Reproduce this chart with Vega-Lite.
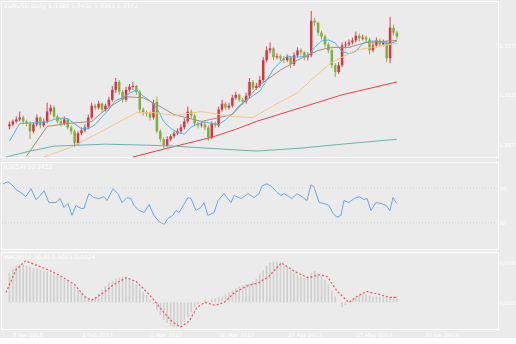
{
  "$schema": "https://vega.github.io/schema/vega-lite/v6.json",
  "padding": 0,
  "background": "#ebebeb",
  "spacing": 1,
  "datasets": {
    "candles": [
      {"i":1,"o":33,"c":35,"h":38,"l":30,"macd":30},{"i":2,"o":35,"c":38,"h":40,"l":33,"macd":34},{"i":3,"o":38,"c":40,"h":43,"l":36,"macd":37},{"i":4,"o":40,"c":42,"h":48,"l":38,"macd":38},{"i":5,"o":42,"c":38,"h":44,"l":35,"macd":38},{"i":6,"o":38,"c":36,"h":40,"l":33,"macd":37},{"i":7,"o":36,"c":28,"h":38,"l":20,"macd":36},{"i":8,"o":28,"c":35,"h":37,"l":26,"macd":35},{"i":9,"o":35,"c":42,"h":45,"l":33,"macd":34},{"i":10,"o":42,"c":34,"h":43,"l":31,"macd":33},
      {"i":11,"o":34,"c":38,"h":41,"l":32,"macd":32},{"i":12,"o":38,"c":48,"h":57,"l":36,"macd":31},{"i":13,"o":48,"c":52,"h":55,"l":45,"macd":30},{"i":14,"o":52,"c":43,"h":54,"l":41,"macd":28},{"i":15,"o":43,"c":38,"h":45,"l":36,"macd":27},{"i":16,"o":38,"c":36,"h":41,"l":33,"macd":25},{"i":17,"o":36,"c":40,"h":43,"l":34,"macd":23},{"i":18,"o":40,"c":32,"h":41,"l":30,"macd":21},{"i":19,"o":32,"c":28,"h":34,"l":25,"macd":19},{"i":20,"o":28,"c":16,"h":30,"l":12,"macd":16},
      {"i":21,"o":16,"c":26,"h":28,"l":14,"macd":13},{"i":22,"o":26,"c":29,"h":32,"l":24,"macd":10},{"i":23,"o":29,"c":32,"h":35,"l":27,"macd":7},{"i":24,"o":32,"c":42,"h":45,"l":30,"macd":4},{"i":25,"o":42,"c":54,"h":57,"l":40,"macd":2},{"i":26,"o":54,"c":52,"h":56,"l":49,"macd":5},{"i":27,"o":52,"c":56,"h":59,"l":50,"macd":9},{"i":28,"o":56,"c":50,"h":57,"l":47,"macd":13},{"i":29,"o":50,"c":54,"h":56,"l":48,"macd":17},{"i":30,"o":54,"c":60,"h":63,"l":52,"macd":20},
      {"i":31,"o":60,"c":70,"h":74,"l":58,"macd":22},{"i":32,"o":70,"c":78,"h":82,"l":67,"macd":24},{"i":33,"o":78,"c":68,"h":80,"l":65,"macd":25},{"i":34,"o":68,"c":60,"h":70,"l":57,"macd":26},{"i":35,"o":60,"c":70,"h":73,"l":58,"macd":25},{"i":36,"o":70,"c":73,"h":76,"l":68,"macd":24},{"i":37,"o":73,"c":74,"h":78,"l":70,"macd":22},{"i":38,"o":74,"c":68,"h":75,"l":65,"macd":19},{"i":39,"o":68,"c":50,"h":70,"l":46,"macd":15},{"i":40,"o":50,"c":47,"h":52,"l":44,"macd":11},
      {"i":41,"o":47,"c":46,"h":49,"l":43,"macd":7},{"i":42,"o":46,"c":42,"h":48,"l":39,"macd":3},{"i":43,"o":42,"c":56,"h":60,"l":40,"macd":-2},{"i":44,"o":58,"c":28,"h":63,"l":26,"macd":-8},{"i":45,"o":28,"c":20,"h":30,"l":17,"macd":-13},{"i":46,"o":20,"c":14,"h":22,"l":10,"macd":-18},{"i":47,"o":14,"c":20,"h":23,"l":12,"macd":-21},{"i":48,"o":20,"c":23,"h":25,"l":18,"macd":-24},{"i":49,"o":23,"c":26,"h":28,"l":21,"macd":-25},{"i":50,"o":26,"c":28,"h":31,"l":24,"macd":-25},
      {"i":51,"o":28,"c":32,"h":35,"l":26,"macd":-23},{"i":52,"o":32,"c":38,"h":41,"l":30,"macd":-20},{"i":53,"o":38,"c":48,"h":53,"l":36,"macd":-15},{"i":54,"o":48,"c":44,"h":50,"l":41,"macd":-10},{"i":55,"o":44,"c":36,"h":46,"l":33,"macd":-5},{"i":56,"o":36,"c":34,"h":38,"l":31,"macd":-2},{"i":57,"o":34,"c":35,"h":38,"l":32,"macd":0},{"i":58,"o":35,"c":32,"h":37,"l":29,"macd":2},{"i":59,"o":32,"c":22,"h":34,"l":18,"macd":1},{"i":60,"o":22,"c":36,"h":38,"l":20,"macd":3},
      {"i":61,"o":36,"c":34,"h":38,"l":32,"macd":4},{"i":62,"o":34,"c":50,"h":53,"l":32,"macd":5},{"i":63,"o":50,"c":56,"h":60,"l":48,"macd":6},{"i":64,"o":56,"c":52,"h":58,"l":50,"macd":8},{"i":65,"o":52,"c":54,"h":57,"l":50,"macd":10},{"i":66,"o":54,"c":62,"h":65,"l":52,"macd":12},{"i":67,"o":62,"c":65,"h":68,"l":60,"macd":14},{"i":68,"o":65,"c":60,"h":66,"l":58,"macd":16},{"i":69,"o":60,"c":58,"h":62,"l":55,"macd":17},{"i":70,"o":58,"c":64,"h":67,"l":56,"macd":18},
      {"i":71,"o":64,"c":78,"h":82,"l":62,"macd":19},{"i":72,"o":78,"c":72,"h":80,"l":70,"macd":21},{"i":73,"o":72,"c":74,"h":77,"l":70,"macd":24},{"i":74,"o":74,"c":80,"h":84,"l":72,"macd":29},{"i":75,"o":80,"c":100,"h":103,"l":78,"macd":33},{"i":76,"o":100,"c":110,"h":114,"l":98,"macd":37},{"i":77,"o":110,"c":112,"h":118,"l":107,"macd":40},{"i":78,"o":112,"c":103,"h":113,"l":100,"macd":41},{"i":79,"o":103,"c":104,"h":107,"l":101,"macd":41},{"i":80,"o":104,"c":102,"h":106,"l":99,"macd":40},
      {"i":81,"o":102,"c":100,"h":104,"l":97,"macd":38},{"i":82,"o":100,"c":103,"h":106,"l":98,"macd":36},{"i":83,"o":103,"c":96,"h":104,"l":92,"macd":33},{"i":84,"o":96,"c":105,"h":108,"l":94,"macd":30},{"i":85,"o":105,"c":110,"h":113,"l":103,"macd":28},{"i":86,"o":110,"c":108,"h":112,"l":105,"macd":26},{"i":87,"o":108,"c":103,"h":109,"l":100,"macd":25},{"i":88,"o":103,"c":105,"h":108,"l":100,"macd":26},{"i":89,"o":105,"c":140,"h":150,"l":103,"macd":30},{"i":90,"o":140,"c":138,"h":143,"l":135,"macd":32},
      {"i":91,"o":138,"c":128,"h":139,"l":125,"macd":30},{"i":92,"o":128,"c":124,"h":130,"l":121,"macd":27},{"i":93,"o":124,"c":116,"h":126,"l":113,"macd":23},{"i":94,"o":116,"c":110,"h":118,"l":107,"macd":18},{"i":95,"o":110,"c":95,"h":112,"l":92,"macd":12},{"i":96,"o":95,"c":88,"h":97,"l":83,"macd":6},{"i":97,"o":88,"c":95,"h":98,"l":86,"macd":0},{"i":98,"o":95,"c":115,"h":118,"l":93,"macd":-5},{"i":99,"o":115,"c":116,"h":119,"l":112,"macd":-3},{"i":100,"o":116,"c":118,"h":121,"l":114,"macd":0},
      {"i":101,"o":118,"c":120,"h":123,"l":116,"macd":3},{"i":102,"o":120,"c":125,"h":129,"l":118,"macd":5},{"i":103,"o":125,"c":122,"h":127,"l":119,"macd":7},{"i":104,"o":122,"c":123,"h":126,"l":120,"macd":8},{"i":105,"o":123,"c":121,"h":125,"l":118,"macd":8},{"i":106,"o":121,"c":110,"h":123,"l":106,"macd":7},{"i":107,"o":110,"c":115,"h":118,"l":108,"macd":6},{"i":108,"o":115,"c":120,"h":123,"l":113,"macd":6},{"i":109,"o":120,"c":116,"h":122,"l":113,"macd":6},{"i":110,"o":116,"c":118,"h":121,"l":114,"macd":5},
      {"i":111,"o":118,"c":102,"h":120,"l":98,"macd":4},{"i":112,"o":102,"c":133,"h":144,"l":97,"macd":5},{"i":113,"o":133,"c":128,"h":136,"l":125,"macd":6},{"i":114,"o":128,"c":124,"h":130,"l":121,"macd":6}
    ],
    "ma": [
      {"s":"fast","i":1,"v":18},{"s":"fast","i":4,"v":36},{"s":"fast","i":8,"v":36.5},{"s":"fast","i":10,"v":36.9},{"s":"fast","i":12,"v":37.4},{"s":"fast","i":14,"v":40},{"s":"fast","i":16,"v":41.4},{"s":"fast","i":18,"v":40.9},{"s":"fast","i":20,"v":35.6},{"s":"fast","i":22,"v":30.6},{"s":"fast","i":24,"v":30.6},{"s":"fast","i":26,"v":34.9},{"s":"fast","i":28,"v":42.6},{"s":"fast","i":30,"v":50},{"s":"fast","i":32,"v":59.3},{"s":"fast","i":34,"v":62},{"s":"fast","i":36,"v":66.6},{"s":"fast","i":38,"v":70.1},{"s":"fast","i":40,"v":63.8},{"s":"fast","i":42,"v":58.8},{"s":"fast","i":44,"v":51.4},{"s":"fast","i":46,"v":37.9},{"s":"fast","i":48,"v":31.1},{"s":"fast","i":50,"v":26.9},{"s":"fast","i":52,"v":25.1},{"s":"fast","i":54,"v":32.4},{"s":"fast","i":56,"v":35.8},{"s":"fast","i":58,"v":37.4},{"s":"fast","i":60,"v":35.9},{"s":"fast","i":62,"v":34.9},{"s":"fast","i":64,"v":39.6},{"s":"fast","i":66,"v":45.8},{"s":"fast","i":68,"v":54.1},{"s":"fast","i":70,"v":58.9},{"s":"fast","i":72,"v":64.1},{"s":"fast","i":74,"v":68.9},{"s":"fast","i":76,"v":79.5},{"s":"fast","i":78,"v":91.1},{"s":"fast","i":80,"v":98.1},{"s":"fast","i":82,"v":104.3},{"s":"fast","i":84,"v":103.1},{"s":"fast","i":86,"v":103.5},{"s":"fast","i":88,"v":103.8},{"s":"fast","i":90,"v":113.1},{"s":"fast","i":92,"v":119.5},{"s":"fast","i":94,"v":120.5},{"s":"fast","i":96,"v":117.4},{"s":"fast","i":98,"v":108.9},{"s":"fast","i":100,"v":106.6},{"s":"fast","i":102,"v":109},{"s":"fast","i":104,"v":116.8},{"s":"fast","i":106,"v":119.4},{"s":"fast","i":108,"v":119.5},{"s":"fast","i":110,"v":118.1},{"s":"fast","i":112,"v":116.9},{"s":"fast","i":114,"v":119.5},
      {"s":"mid","i":6,"v":3},{"s":"mid","i":12,"v":33},{"s":"mid","i":18,"v":36},{"s":"mid","i":25,"v":38},{"s":"mid","i":29,"v":50},{"s":"mid","i":35,"v":63},{"s":"mid","i":40,"v":62},{"s":"mid","i":44,"v":55},{"s":"mid","i":49,"v":45},{"s":"mid","i":57,"v":38},{"s":"mid","i":66,"v":45},{"s":"mid","i":74,"v":75},{"s":"mid","i":80,"v":90},{"s":"mid","i":85,"v":100},{"s":"mid","i":91,"v":110},{"s":"mid","i":95,"v":113},{"s":"mid","i":100,"v":113},{"s":"mid","i":105,"v":118},{"s":"mid","i":114,"v":120},
      {"s":"slow","i":11,"v":2},{"s":"slow","i":19,"v":12},{"s":"slow","i":29,"v":30},{"s":"slow","i":38,"v":47},{"s":"slow","i":43,"v":47},{"s":"slow","i":49,"v":44},{"s":"slow","i":57,"v":48},{"s":"slow","i":66,"v":43},{"s":"slow","i":72,"v":42},{"s":"slow","i":79,"v":56},{"s":"slow","i":85,"v":67},{"s":"slow","i":89,"v":80},{"s":"slow","i":95,"v":98},{"s":"slow","i":102,"v":110},{"s":"slow","i":108,"v":114},{"s":"slow","i":114,"v":117},
      {"s":"ma100","i":37,"v":2},{"s":"ma100","i":46,"v":10},{"s":"ma100","i":60,"v":22},{"s":"ma100","i":67,"v":30},{"s":"ma100","i":73,"v":38},{"s":"ma100","i":86,"v":52},{"s":"ma100","i":98,"v":65},{"s":"ma100","i":114,"v":78},
      {"s":"ma200","i":0,"v":2},{"s":"ma200","i":7,"v":8},{"s":"ma200","i":14,"v":13},{"s":"ma200","i":29,"v":15},{"s":"ma200","i":41,"v":14},{"s":"ma200","i":49,"v":13},{"s":"ma200","i":63,"v":10},{"s":"ma200","i":73,"v":8},{"s":"ma200","i":86,"v":11},{"s":"ma200","i":98,"v":15},{"s":"ma200","i":114,"v":20}
    ],
    "rsi": [
      {"i":0.6,"r":75},{"i":2,"r":77.3},{"i":3.4,"r":72.7},{"i":4.3,"r":68.2},{"i":5.7,"r":64.8},{"i":7.1,"r":60.2},{"i":8.6,"r":69.3},{"i":10,"r":56.8},{"i":10.9,"r":60.2},{"i":12.3,"r":67},{"i":13.7,"r":53.4},{"i":15.7,"r":53.4},{"i":16.9,"r":58},{"i":18,"r":47.7},{"i":19.1,"r":52.3},{"i":20.3,"r":38.6},{"i":21.4,"r":50},{"i":22.9,"r":46.6},{"i":23.7,"r":46.6},{"i":25.1,"r":63.6},{"i":26.6,"r":59.1},{"i":28,"r":58},{"i":29.4,"r":60.2},{"i":30.3,"r":55.7},{"i":32,"r":69.3},{"i":33.4,"r":63.6},{"i":34.6,"r":53.4},{"i":36,"r":59.1},{"i":37.1,"r":58},{"i":38,"r":50},{"i":39.4,"r":44.3},{"i":40.9,"r":42},{"i":42.3,"r":51.1},{"i":43.7,"r":38.6},{"i":45.1,"r":31.8},{"i":46.6,"r":28.4},{"i":47.7,"r":35.2},{"i":49.1,"r":38.6},{"i":50,"r":44.3},{"i":50.9,"r":42},{"i":53.4,"r":59.1},{"i":54.3,"r":58},{"i":55.7,"r":44.3},{"i":57.1,"r":47.7},{"i":58,"r":53.4},{"i":59.1,"r":38.6},{"i":60.9,"r":42},{"i":62,"r":55.7},{"i":63.7,"r":63.6},{"i":65.7,"r":53.4},{"i":66.6,"r":61.4},{"i":68.6,"r":58},{"i":70.6,"r":63.6},{"i":72.3,"r":59.1},{"i":73.7,"r":63.6},{"i":74.6,"r":72.7},{"i":76,"r":75},{"i":77.4,"r":71.6},{"i":78.9,"r":64.8},{"i":80,"r":61.4},{"i":80.9,"r":63.6},{"i":82.3,"r":60.2},{"i":83.1,"r":58},{"i":84.6,"r":63.6},{"i":86,"r":60.2},{"i":87.4,"r":55.7},{"i":88.6,"r":73.9},{"i":89.4,"r":71.6},{"i":90.9,"r":53.4},{"i":92.3,"r":52.3},{"i":93.7,"r":50},{"i":94.9,"r":40.9},{"i":96,"r":36.4},{"i":97.1,"r":38.6},{"i":98,"r":55.7},{"i":99.4,"r":53.4},{"i":100.9,"r":58},{"i":102.3,"r":60.2},{"i":103.7,"r":56.8},{"i":104.6,"r":58},{"i":105.7,"r":44.3},{"i":107.1,"r":53.4},{"i":108.6,"r":52.3},{"i":110,"r":50},{"i":111.1,"r":44.3},{"i":112,"r":59.1},{"i":112.9,"r":53.4},{"i":113.1,"r":52.3}
    ],
    "sig": [
      {"i":0,"m":10},{"i":2.9,"m":33},{"i":5.7,"m":42},{"i":8.6,"m":38},{"i":12.3,"m":33},{"i":16.3,"m":26},{"i":20,"m":18},{"i":22.9,"m":6},{"i":24.9,"m":2},{"i":27.7,"m":8},{"i":31.4,"m":18},{"i":35.1,"m":25},{"i":38,"m":21},{"i":40.9,"m":11},{"i":43.7,"m":0},{"i":45.7,"m":-9},{"i":48.6,"m":-20},{"i":50.9,"m":-25},{"i":53.4,"m":-19},{"i":55.7,"m":-5},{"i":58,"m":0},{"i":60.9,"m":-3},{"i":63.7,"m":0},{"i":66.6,"m":10},{"i":70.6,"m":17},{"i":73.7,"m":20},{"i":76.6,"m":26},{"i":80.3,"m":40},{"i":84.3,"m":31},{"i":88,"m":25},{"i":91.7,"m":28},{"i":93.7,"m":26},{"i":96.6,"m":11},{"i":100,"m":0},{"i":102.3,"m":6},{"i":105.1,"m":11},{"i":108.9,"m":8},{"i":111.7,"m":5},{"i":113.7,"m":5}
    ]
  },
  "vconcat": [
    {
      "width": 497,
      "height": 156,
      "title": {"text": "EURUSD,Daily  1.3380 1.3402 1.3351 1.3372", "anchor": "start", "offset": -8, "fontSize": 6, "fontWeight": "normal", "color": "#ffffff", "font": "DejaVu Sans", "dx": 3},
      "layer": [
        {
          "data": {"name": "candles"},
          "mark": {"type": "rule", "strokeWidth": 1},
          "encoding": {
            "x": {"field": "i", "type": "quantitative", "scale": {"domain": [0, 142], "nice": false, "zero": false}, "axis": null},
            "y": {"field": "l", "type": "quantitative", "scale": {"domain": [2, 160], "nice": false, "zero": false}, "axis": {"orient": "right", "values": [15, 40, 65, 90, 115, 140], "labelOverlap": false, "labelExpr": "format(1.2800 + datum.value * 0.0005, '.4f')", "title": null}},
            "y2": {"field": "h"},
            "color": {"condition": {"test": "datum.c >= datum.o", "value": "#e0404e"}, "value": "#8ab04a"}
          }
        },
        {
          "data": {"name": "candles"},
          "mark": {"type": "bar", "size": 2.5},
          "encoding": {
            "x": {"field": "i", "type": "quantitative"},
            "y": {"field": "o", "type": "quantitative"},
            "y2": {"field": "c"},
            "color": {"condition": {"test": "datum.c >= datum.o", "value": "#e0303f"}, "value": "#7fae3c"}
          }
        },
        {
          "data": {"name": "ma"},
          "mark": {"type": "line", "strokeWidth": 1},
          "encoding": {
            "x": {"field": "i", "type": "quantitative"},
            "y": {"field": "v", "type": "quantitative"},
            "color": {"field": "s", "type": "nominal", "scale": {"domain": ["fast", "mid", "slow", "ma100", "ma200"], "range": ["#4fb3e3", "#a08f7e", "#f4c68a", "#e8404f", "#6fb2a8"]}, "legend": null},
            "strokeWidth": {"field": "s", "type": "nominal", "scale": {"domain": ["fast", "mid", "slow", "ma100", "ma200"], "range": [1, 0.8, 1, 1.6, 1.3]}, "legend": null}
          }
        },
        {
          "mark": {"type": "rule", "color": "#8fa2ae", "strokeWidth": 1},
          "encoding": {"y": {"datum": 124}}
        }
      ]
    },
    {
      "width": 497,
      "height": 87,
      "title": {"text": "RSI(14) 52.3412", "anchor": "start", "offset": -8, "fontSize": 6, "fontWeight": "normal", "color": "#ffffff", "font": "DejaVu Sans", "dx": 3},
      "layer": [
        {
          "data": {"name": "rsi"},
          "mark": {"type": "line", "color": "#6aa6e6", "strokeWidth": 1},
          "encoding": {
            "x": {"field": "i", "type": "quantitative", "scale": {"domain": [0, 142], "nice": false, "zero": false}, "axis": null},
            "y": {"field": "r", "type": "quantitative", "scale": {"domain": [0, 100], "nice": false}, "axis": {"orient": "right", "values": [30, 70], "title": null}}
          }
        },
        {
          "data": {"values": [{"lv": 70}, {"lv": 30}]},
          "mark": {"type": "rule", "color": "#cdd5de", "strokeDash": [1, 2], "strokeWidth": 1},
          "encoding": {"y": {"field": "lv", "type": "quantitative"}}
        }
      ]
    },
    {
      "width": 497,
      "height": 77,
      "title": {"text": "MACD(12,26,9) 0.0021 0.0024", "anchor": "start", "offset": -8, "fontSize": 6, "fontWeight": "normal", "color": "#ffffff", "font": "DejaVu Sans", "dx": 3},
      "layer": [
        {
          "data": {"name": "candles"},
          "mark": {"type": "bar", "size": 1.6, "color": "#cfcfcf"},
          "encoding": {
            "x": {"field": "i", "type": "quantitative", "scale": {"domain": [0, 142], "nice": false, "zero": false}, "axis": {"orient": "bottom", "values": [2, 12, 22, 32, 42, 52, 62, 72, 82, 92, 102, 112, 122, 132], "labelExpr": "timeFormat(datetime(2013, 0, 2 + round(datum.value * 1.4)), '%e %b %Y')", "title": null, "labelFontSize": 5.5, "labelPadding": 3, "labelAlign": "left"}},
            "y": {"field": "macd", "type": "quantitative", "scale": {"domain": [-27, 51], "nice": false, "zero": false}, "axis": {"orient": "right", "values": [0, 40], "labelExpr": "format(datum.value * 0.0001, '.4f')", "title": null}},
            "y2": {"datum": 0}
          }
        },
        {
          "data": {"name": "sig"},
          "mark": {"type": "line", "color": "#e05563", "strokeDash": [2, 2], "strokeWidth": 1.2},
          "encoding": {
            "x": {"field": "i", "type": "quantitative"},
            "y": {"field": "m", "type": "quantitative"}
          }
        }
      ]
    }
  ],
  "config": {
    "view": {"stroke": "#ffffff", "strokeWidth": 1, "fill": "#ebebeb"},
    "axis": {"grid": false, "domain": false, "ticks": false, "labelColor": "#ffffff", "labelFontSize": 5, "labelFont": "DejaVu Sans", "labelPadding": 1}
  }
}
